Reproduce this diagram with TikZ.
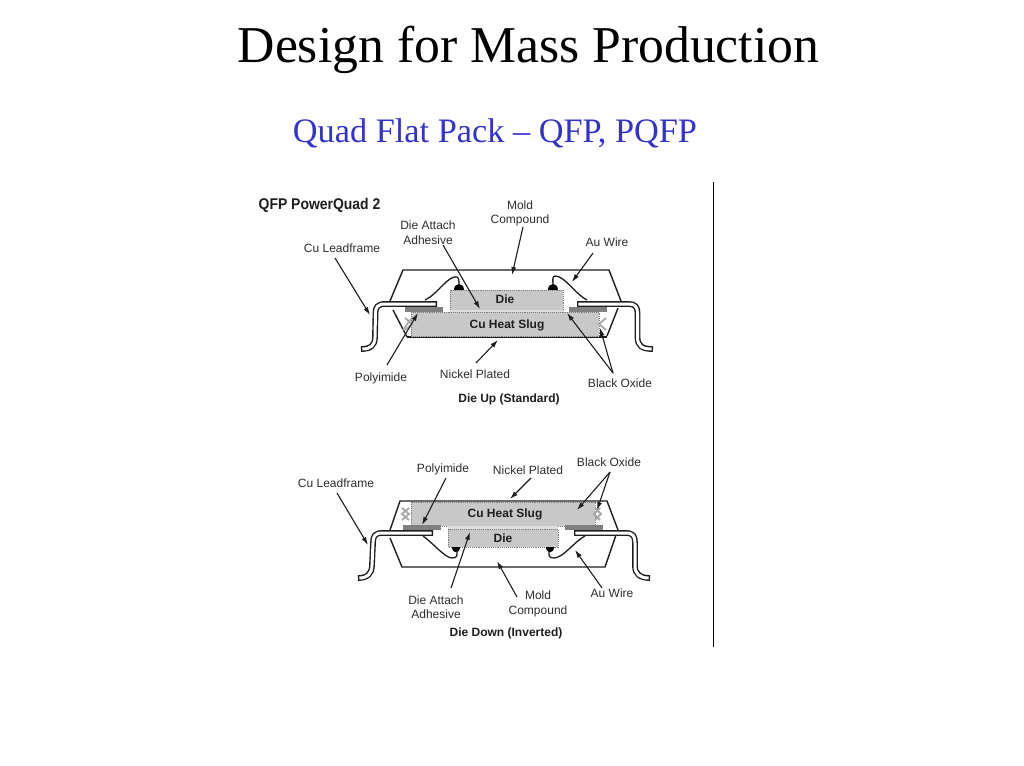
\documentclass[tikz,border=0pt]{standalone}
\usepackage{fontspec}
\setmainfont{Liberation Serif}
\setsansfont{Liberation Sans}
\usetikzlibrary{arrows.meta}
\definecolor{ink}{HTML}{1E1E1E}
\definecolor{labelgrey}{HTML}{2E2E2E}
\definecolor{slugfill}{HTML}{C8C8C8}
\definecolor{slugedge}{HTML}{808080}
\definecolor{polyfill}{HTML}{808080}
\definecolor{subblue}{HTML}{3333CC}
\definecolor{xgrey}{HTML}{A8A8A8}
\tikzset{
  titletext/.style={font=\rmfamily\fontsize{51.7}{56}\selectfont,text=black,anchor=base,inner sep=0pt},
  subtext/.style={font=\rmfamily\fontsize{34.3}{38}\selectfont,text=subblue,anchor=base,inner sep=0pt},
  lbl/.style={font=\sffamily\fontsize{12}{14.5}\selectfont,text=labelgrey,align=center,inner sep=0pt},
  blbl/.style={font=\sffamily\bfseries\fontsize{12}{14.5}\selectfont,text=ink,align=center,inner sep=0pt},
  pkg/.style={draw=ink,line width=1.4pt},
  body/.style={fill=slugfill,draw=slugedge,line width=0.9pt,densely dotted},
  poly/.style={fill=polyfill,draw=none},
  lead/.style={draw=white,line width=3pt,shorten <=1.4pt,shorten >=1.4pt,
    preaction={draw=ink,line width=5.8pt,shorten <=0pt,shorten >=0pt}},
  wire/.style={draw=ink,line width=1.3pt},
  ball/.style={fill=black,draw=none},
  callout/.style={draw=ink,line width=1.1pt,-{Latex[length=8pt,width=5pt]}},
  xmark/.style={draw=xgrey,line width=1.8pt}
}
\begin{document}
\begin{tikzpicture}[x=1pt,y=-1pt]
\useasboundingbox (0,0) rectangle (1024,765);
\fill[white] (0,0) rectangle (1024,765);
% titles
\node[titletext] (title) at (528.5,63) {Design for Mass Production};
\node[subtext] (sub) at (495,142.5) {Quad Flat Pack – QFP, PQFP};
\coordinate (ruleA) at (713.5,182);
\coordinate (ruleB) at (713.5,647);
\draw[black,line width=1.4pt] (ruleA) -- (ruleB);
\node[font=\sffamily\bfseries\fontsize{15.5}{17}\selectfont,text=ink,inner sep=0pt,xscale=0.9] (qfp) at (319.5,205.5) {QFP PowerQuad 2};

% ---------- Die up
\draw[pkg] (407,337) -- (393,310);
\draw[pkg] (390,301) -- (403,270) -- (609,270) -- (621,301);
\draw[pkg] (618,308) -- (607,336);
\fill[slugfill] (411,312) rectangle (599,337);
\draw[ink,line width=1.2pt] (407,337) -- (607,337);
\draw[body] (411,312) rectangle (599,336.5);
\draw[body] (450,290) rectangle (563,310);
\fill[slugfill!60!white] (450,310) rectangle (563,312);
\fill[poly] (405,307) rectangle (443,312);
\fill[poly] (569,307) rectangle (607,312);
\draw[xmark] (405,318) -- (412,324) -- (405,330);
\draw[xmark] (403,330) -- (411,319);
\draw[xmark] (606,318) -- (599,324) -- (606,330);
\draw[wire] (425,300) .. controls (438,294) and (448,275) .. (457,277) .. controls (459,278) and (459,281) .. (459,286);
\draw[wire] (587,300) .. controls (575,294) and (565,276) .. (555,276) .. controls (552,276) and (553,281) .. (553,286);
\fill[ball] (454,290) .. controls (454,282) and (464,282) .. (464,290) -- cycle;
\fill[ball] (548,290) .. controls (548,282) and (558,282) .. (558,290) -- cycle;
\draw[lead] (437,304) -- (385,304) .. controls (378,304) and (375.5,307) .. (375.5,313) -- (375,337) .. controls (375,346) and (370,349) .. (361,349);
\draw[lead] (577,304) -- (629,304) .. controls (635,304) and (637.5,307) .. (637.5,313) -- (637.5,337) .. controls (637.5,346) and (642,349) .. (653,349);
\node[blbl] (dieU) at (505,299.5) {Die};
\node[blbl] (slugU) at (507,325) {Cu Heat Slug};
\node[lbl] (moldU) at (520,213.5) {Mold\\Compound};
\node[lbl] (attachU) at (428,232.5) {Die Attach\\Adhesive};
\node[lbl] (leadU) at (342,248) {Cu Leadframe};
\node[lbl] (wireU) at (607,242) {Au Wire};
\node[lbl] (polyU) at (381,378) {Polyimide};
\node[lbl] (nickelU) at (475,374) {Nickel Plated};
\node[lbl] (oxideU) at (620,383) {Black Oxide};
\node[blbl] (capU) at (509,399) {Die Up (Standard)};
\coordinate (a1s) at (335,258); \coordinate (a1e) at (370,315);
\coordinate (a2s) at (443,245); \coordinate (a2e) at (480,309);
\coordinate (a3s) at (523,227); \coordinate (a3e) at (512,275);
\coordinate (a4s) at (593,253); \coordinate (a4e) at (572,282);
\coordinate (a5s) at (387,365); \coordinate (a5e) at (418,313);
\coordinate (a6s) at (476,363); \coordinate (a6e) at (498,340);
\coordinate (a7s) at (613,373); \coordinate (a7e) at (567,313);
\coordinate (a8e) at (600,328);
\draw[callout] (a1s) -- (a1e);
\draw[callout] (a2s) -- (a2e);
\draw[callout] (a3s) -- (a3e);
\draw[callout] (a4s) -- (a4e);
\draw[callout] (a5s) -- (a5e);
\draw[callout] (a6s) -- (a6e);
\draw[callout] (a7s) -- (a7e);
\draw[callout] (a7s) -- (a8e);

% ---------- Die down
\draw[pkg] (390,530) -- (400,501) -- (607,501) -- (618,530);
\draw[pkg] (616,535) -- (605,567) -- (402,567) -- (390,538);
\fill[slugfill] (411,502) rectangle (595,526);
\draw[body] (411,502) rectangle (595,526);
\draw[body] (448,529) rectangle (558,547);
\fill[slugfill!60!white] (448,526) rectangle (558,529);
\fill[poly] (403,525) rectangle (441,530);
\fill[poly] (565,525) rectangle (603,530);
\draw[xmark] (402,508) -- (409,514) -- (402,520);
\draw[xmark] (409,508) -- (402,514) -- (409,520);
\draw[xmark] (600,508) -- (594,514) -- (600,520);
\draw[xmark] (595,508) -- (601,514) -- (595,520);
\draw[wire] (423,536) .. controls (433,543) and (445,558) .. (452,558) .. controls (458,558) and (457,555) .. (457,550);
\draw[wire] (585,536) .. controls (575,541) and (563,558) .. (554,558) .. controls (548,558) and (549,555) .. (549,550);
\fill[ball] (452,547) .. controls (452,553.5) and (460,553.5) .. (460,547) -- cycle;
\fill[ball] (546,547) .. controls (546,553.5) and (554,553.5) .. (554,547) -- cycle;
\draw[lead] (433,533) -- (382,533) .. controls (375,533) and (373,536) .. (373,543) -- (372,565) .. controls (372,574) and (367,578) .. (358,578);
\draw[lead] (574,533) -- (626,533) .. controls (633,533) and (635,536) .. (635,543) -- (635,566) .. controls (635,574) and (640,578) .. (650,578);
\node[blbl] (slugD) at (505,514) {Cu Heat Slug};
\node[blbl] (dieD) at (503,538) {Die};
\node[lbl] (polyD) at (443,469) {Polyimide};
\node[lbl] (nickelD) at (528,470) {Nickel Plated};
\node[lbl] (oxideD) at (609,462) {Black Oxide};
\node[lbl] (leadD) at (336,483) {Cu Leadframe};
\node[lbl] (attachD) at (436,607) {Die Attach\\Adhesive};
\node[lbl] (moldD) at (538,604) {Mold\\Compound};
\node[lbl] (wireD) at (612,593) {Au Wire};
\node[blbl] (capD) at (506,633) {Die Down (Inverted)};
\coordinate (b1s) at (337,493); \coordinate (b1e) at (368,545);
\coordinate (b2s) at (446,478); \coordinate (b2e) at (422,525);
\coordinate (b3s) at (531,478); \coordinate (b3e) at (510,499);
\coordinate (b4s) at (610,472); \coordinate (b4e) at (577,510);
\coordinate (b5e) at (597,510);
\coordinate (b6s) at (602,588); \coordinate (b6e) at (575,550);
\coordinate (b7s) at (517,597); \coordinate (b7e) at (497,561);
\coordinate (b8s) at (451,588); \coordinate (b8e) at (470,532);
\draw[callout] (b1s) -- (b1e);
\draw[callout] (b2s) -- (b2e);
\draw[callout] (b3s) -- (b3e);
\draw[callout] (b4s) -- (b4e);
\draw[callout] (b4s) -- (b5e);
\draw[callout] (b6s) -- (b6e);
\draw[callout] (b7s) -- (b7e);
\draw[callout] (b8s) -- (b8e);
\end{tikzpicture}
\end{document}
